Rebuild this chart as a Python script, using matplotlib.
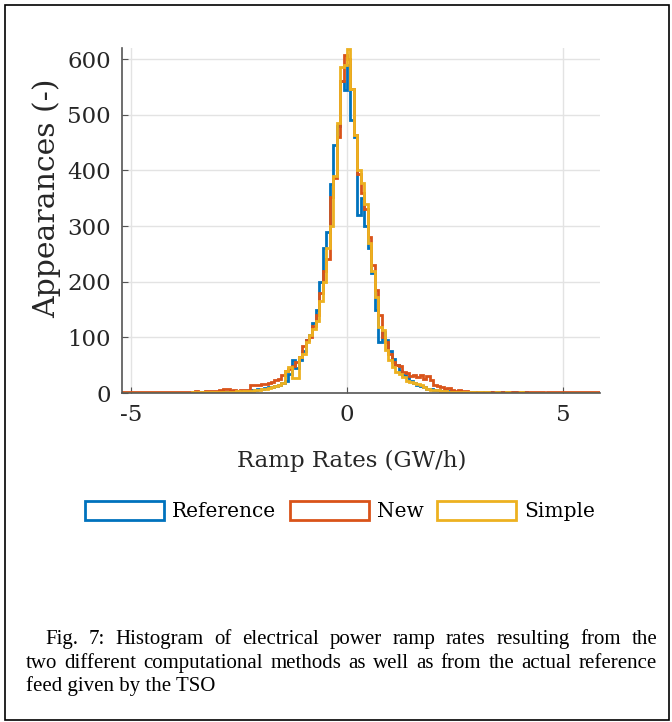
import numpy as np
import matplotlib
matplotlib.use("Agg")
import matplotlib.pyplot as plt
from matplotlib.patches import Patch, Rectangle

# histogram bins (GW/h)
bin_start = -5.2
bin_width = 0.08

# counts per bin
simple_counts = [
    0, 0, 0, 0, 0, 0, 0, 0, 0, 0,
    0, 0, 0, 0, 0, 0, 0, 0, 0, 0,
    1, 0, 1, 1, 1, 2, 1, 2, 1, 2,
    2, 1, 2, 3, 2, 3, 4, 4, 5, 6,
    7, 8, 9, 11, 12, 14, 18, 40, 47, 27,
    27, 65, 70, 92, 105, 115, 130, 165, 200, 260,
    300, 390, 485, 586, 590, 619, 547, 463, 400, 378,
    340, 270, 220, 173, 119, 113, 77, 60, 46, 38,
    35, 29, 22, 20, 18, 16, 15, 11, 8, 6,
    5, 5, 3, 3, 2, 2, 2, 1, 2, 1,
    1, 1, 0, 1, 0, 1, 0, 0, 1, 0,
    0, 1, 0, 0, 0, 1, 0, 0, 0, 0,
    0, 0, 0, 0, 0, 0, 0, 0, 0, 0,
    0, 0, 0, 0, 0, 0, 0, 0,
]
new_counts = [
    2, 1, 1, 2, 1, 1, 1, 2, 1, 1,
    2, 1, 1, 1, 2, 1, 1, 2, 1, 2,
    2, 3, 2, 2, 3, 3, 4, 3, 5, 8,
    8, 4, 5, 4, 5, 6, 5, 14, 15, 15,
    16, 17, 18, 19, 24, 26, 32, 40, 44, 48,
    55, 65, 85, 95, 100, 120, 140, 180, 220, 240,
    352, 386, 460, 560, 607, 600, 547, 463, 393, 360,
    330, 280, 230, 185, 140, 100, 92, 70, 55, 50,
    48, 38, 36, 30, 33, 28, 32, 25, 31, 24,
    14, 12, 10, 8, 9, 5, 4, 5, 3, 4,
    2, 2, 1, 2, 1, 1, 2, 1, 1, 0,
    1, 2, 1, 1, 1, 0, 1, 1, 2, 1,
    1, 1, 0, 1, 2, 1, 1, 1, 2, 1,
    1, 2, 1, 1, 2, 2, 1, 2,
]
reference_counts = [
    0, 0, 0, 0, 0, 0, 0, 0, 0, 0,
    0, 0, 0, 0, 0, 0, 0, 0, 0, 0,
    0, 1, 0, 1, 1, 1, 1, 2, 1, 2,
    2, 3, 2, 3, 3, 4, 4, 5, 6, 7,
    8, 9, 10, 11, 13, 15, 18, 22, 35, 59,
    45, 60, 75, 95, 105, 125, 150, 200, 260, 290,
    375, 445, 480, 560, 545, 590, 490, 460, 320, 350,
    300, 260, 215, 150, 92, 110, 95, 75, 62, 50,
    40, 33, 28, 22, 18, 15, 12, 10, 8, 7,
    6, 5, 4, 4, 3, 3, 2, 2, 2, 1,
    2, 1, 1, 1, 0, 1, 1, 0, 1, 0,
    1, 0, 0, 1, 0, 0, 1, 0, 0, 0,
    0, 0, 0, 0, 0, 0, 0, 0, 0, 0,
    0, 0, 0, 0, 0, 0, 0, 0,
]

labels = ["Reference", "New", "Simple"]
colors = ["#0072BD", "#D95319", "#EDB120"]

caption_lines = [
    "Fig. 7: Histogram of electrical power ramp rates resulting from the",
    "two different computational methods as well as from the actual reference",
    "feed given by the TSO",
]

plt.rcParams["axes.unicode_minus"] = False
serif = "DejaVu Serif"

W, H = 672, 722
fig = plt.figure(figsize=(W / 100, H / 100), dpi=100)
ax = fig.add_axes([122 / W, 1 - 393 / H, (600 - 122) / W, (393 - 48) / H])

edges = bin_start + bin_width * np.arange(len(simple_counts) + 1)
for counts, c in zip([reference_counts, new_counts, simple_counts], colors):
    ax.stairs(counts, edges, color=c, linewidth=2)

ax.set_xlim(-5.21, 5.86)
ax.set_ylim(0, 620)
ax.set_xticks([-5, 0, 5])
ax.set_yticks(range(0, 601, 100))
ax.grid(True, color="#e3e3e3", linewidth=1)
ax.set_axisbelow(True)
for s in ["top", "right"]:
    ax.spines[s].set_visible(False)
for s in ["left", "bottom"]:
    ax.spines[s].set_color("#555555")
    ax.spines[s].set_linewidth(1.2)
ax.tick_params(direction="in", length=4, color="#555555", labelcolor="#262626",
               labelsize=16.5, pad=8)
for t in ax.get_xticklabels() + ax.get_yticklabels():
    t.set_family(serif)
ax.set_xlabel("Ramp Rates (GW/h)", family=serif, fontsize=16.5, color="#262626")
ax.set_ylabel("Appearances (-)", family=serif, fontsize=21.5, color="#262626")
ax.xaxis.set_label_coords(0.48, -0.165)
ax.yaxis.set_label_coords(-0.128, 0.565)

handles = [Patch(facecolor="white", edgecolor=c, linewidth=2) for c in colors]
fig.legend(handles, labels, loc="center", bbox_to_anchor=(0.506, 1 - 511 / H),
           ncol=3, frameon=False, handlelength=3.9, handleheight=1.1,
           handletextpad=0.4, columnspacing=0.7,
           prop={"family": serif, "size": 14.5})

# caption, justified like the paper
cap_kw = dict(family="Liberation Serif", fontsize=15, color="black", va="baseline")
renderer = fig.canvas.get_renderer()


def justify(line, x0, x1, y):
    words = line.split()
    texts = [fig.text(0, y, w, **cap_kw) for w in words]
    widths = [t.get_window_extent(renderer).width for t in texts]
    gap = ((x1 - x0) - sum(widths)) / (len(words) - 1)
    x = x0
    for t, w in zip(texts, widths):
        t.set_x(x / W)
        x += w + gap


justify(caption_lines[0], 45, 657, 1 - 644 / H)
justify(caption_lines[1], 26, 657, 1 - 668 / H)
fig.text(26 / W, 1 - 691 / H, caption_lines[2], **cap_kw)

fig.patches.append(Rectangle((5 / W, 2 / H), 664 / W, 715 / H, fill=False,
                             edgecolor="black", linewidth=1.2,
                             transform=fig.transFigure, figure=fig))

fig.savefig("out.png", dpi=100)
